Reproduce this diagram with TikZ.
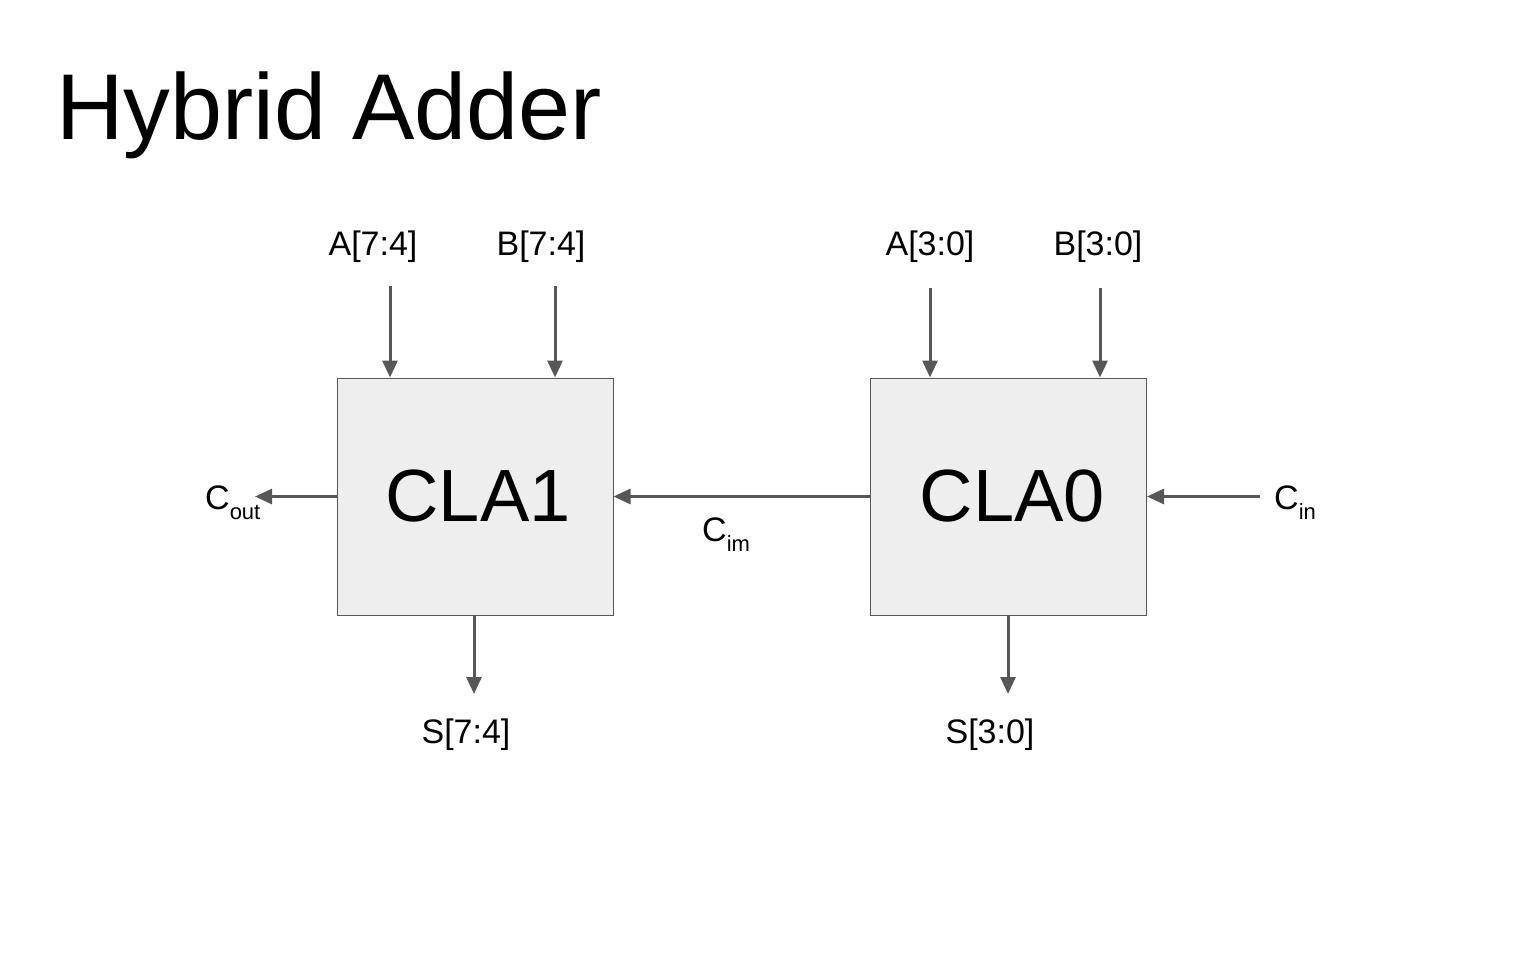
\documentclass[tikz,border=0pt]{standalone}
\usepackage{fontspec}
\setmainfont{Liberation Sans}
\usetikzlibrary{arrows.meta}
\definecolor{wire}{HTML}{575757}
\definecolor{boxfill}{HTML}{EEEEEE}
\newcommand{\fsz}[1]{\fontsize{#1}{#1}\selectfont}
\newcommand{\sig}[2]{C\raisebox{-0.3em}{\fsz{22}#2}}
\tikzset{
  block/.style={draw=wire, fill=boxfill, line width=1pt, minimum width=276pt, minimum height=237pt, inner sep=0pt, font=\fsz{74}},
  wirearrow/.style={draw=wire, line width=3pt, -{Triangle[length=17pt,width=15pt]}},
  lbl/.style={inner sep=0pt, anchor=base, font=\fsz{34}}
}
\begin{document}
\begin{tikzpicture}[x=1pt,y=-1pt]
\useasboundingbox (0,0) rectangle (1536,960);
\node[inner sep=0pt, anchor=base west, font=\fsz{93.5}] (title) at (56,139.5) {Hybrid Adder};
\node[block] (cla1) at (475,496.5) {\hspace*{6pt}CLA1};
\node[block] (cla0) at (1008.5,496.5) {\hspace*{8pt}CLA0};
\node[lbl] (la74) at (373,255) {A[7:4]};
\node[lbl] (lb74) at (541,255) {B[7:4]};
\node[lbl] (la30) at (930,255) {A[3:0]};
\node[lbl] (lb30) at (1098,255) {B[3:0]};
\node[lbl] (ls74) at (466,743) {S[7:4]};
\node[lbl] (ls30) at (990,743) {S[3:0]};
\node[lbl, anchor=base west] (lcout) at (205,509) {\sig{C}{out}};
\node[lbl, anchor=base west] (lcim) at (702,541) {\sig{C}{im}};
\node[lbl, anchor=base west] (lcin) at (1274,509) {\sig{C}{in}};
\coordinate (a74) at (390,286);
\coordinate (b74) at (555,286);
\coordinate (a30) at (930,288);
\coordinate (b30) at (1100,288);
\coordinate (s74) at (474,694);
\coordinate (s30) at (1008,694);
\coordinate (cout) at (255,496.5);
\coordinate (cin) at (1260,496.5);
\draw[wirearrow] (a74) -- (a74 |- cla1.north);
\draw[wirearrow] (b74) -- (b74 |- cla1.north);
\draw[wirearrow] (a30) -- (a30 |- cla0.north);
\draw[wirearrow] (b30) -- (b30 |- cla0.north);
\draw[wirearrow] (s74 |- cla1.south) -- (s74);
\draw[wirearrow] (s30 |- cla0.south) -- (s30);
\draw[wirearrow] (cla1.west) -- (cout);
\draw[wirearrow] (cla0.west) -- (cla1.east);
\draw[wirearrow] (cin) -- (cla0.east);
\end{tikzpicture}
\end{document}
